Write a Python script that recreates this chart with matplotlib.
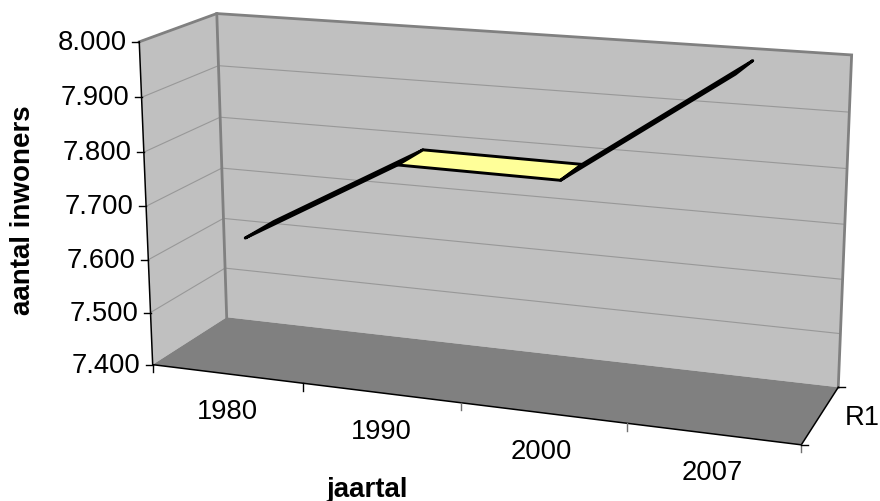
import numpy as np
import matplotlib
matplotlib.use("Agg")
import matplotlib.pyplot as plt
from matplotlib.patches import Polygon

plt.rcParams['font.family'] = ['Liberation Sans', 'DejaVu Sans']

# data
jaren = ["1980", "1990", "2000", "2007"]
inwoners = [7631, 7793, 7791, 7997]
y_ticks = [7400, 7500, 7600, 7700, 7800, 7900, 8000]
y_labels = ["7.400", "7.500", "7.600", "7.700", "7.800", "7.900", "8.000"]
reeks = "R1"

# box corners in picture pixels, used to calibrate the projection
# (x, y, z) -> pixel, x = along years, y = height, z = depth
hoeken = [
    ((0, 0, 0), (152.7, 366)),
    ((0, 1, 0), (139.5, 42.3)),
    ((0, 0, 1), (226.7, 318)),
    ((0, 1, 1), (216.5, 15)),
    ((1, 0, 1), (838.5, 388)),
    ((1, 1, 1), (851.7, 56)),
    ((1, 0, 0), (801, 446)),
]


def calibrate(paren):
    rows = []
    for (x, y, z), (u, v) in paren:
        rows.append([x, y, z, 1, 0, 0, 0, 0, -u * x, -u * y, -u * z, -u])
        rows.append([0, 0, 0, 0, x, y, z, 1, -v * x, -v * y, -v * z, -v])
    return np.linalg.svd(np.array(rows, float))[2][-1].reshape(3, 4)


P = calibrate(hoeken)


def proj(x, y, z):
    u, v, w = P @ np.array([x, y, z, 1.0])
    return u / w, v / w


def yy(v):
    return (v - y_ticks[0]) / (y_ticks[-1] - y_ticks[0])


fig = plt.figure(figsize=(8.8, 5.02), dpi=100)
ax = fig.add_axes([0, 0, 1, 1])
ax.set_xlim(0, 880)
ax.set_ylim(502, 0)
ax.axis('off')

# walls and floor
ax.add_patch(Polygon([proj(0, 0, 0), proj(0, 1, 0), proj(0, 1, 1), proj(0, 0, 1)], fc='#c0c0c0', ec='none'))
ax.add_patch(Polygon([proj(0, 0, 1), proj(0, 1, 1), proj(1, 1, 1), proj(1, 0, 1)], fc='#c0c0c0', ec='none'))
ax.add_patch(Polygon([proj(0, 0, 0), proj(1, 0, 0), proj(1, 0, 1), proj(0, 0, 1)], fc='#808080', ec='none'))

# gridlines
for t in y_ticks[1:-1]:
    h = yy(t)
    pts = [proj(0, h, 0), proj(0, h, 1), proj(1, h, 1)]
    ax.plot(*zip(*pts), color='#989898', lw=0.8)

# wall edges
rand = [proj(0, 1, 0), proj(0, 1, 1), proj(1, 1, 1), proj(1, 0, 1)]
ax.plot(*zip(*rand), color='#808080', lw=2, solid_joinstyle='miter')
ax.plot(*zip(proj(0, 1, 1), proj(0, 0, 1)), color='#808080', lw=2)

# axes lines
ax.plot(*zip(proj(0, 1, 0), proj(0, 0, 0), proj(1, 0, 0), proj(1, 0, 1)), color='black', lw=1.1)

# y ticks and labels
for t, lab in zip(y_ticks, y_labels):
    u, v = proj(0, yy(t), 0)
    ax.plot([u - 7, u], [v, v], color='black', lw=1)
    ax.text(u - 12.5, v, lab, ha='right', va='center', fontsize=19.7, color='black')

# x ticks
n = len(jaren)
for i in range(n + 1):
    u, v = proj(i / n, 0, 0)
    ax.plot([u, u], [v, v + 7.5], color='black' if i < 2 else '#707070', lw=1)
for u, v in [proj(1, 0, 0), proj(1, 0, 1)]:
    ax.plot([u, u + 7], [v, v], color='black', lw=1)

# ribbon
z1, z2 = 0.30, 0.70
for i in range(n - 1):
    x0, x1 = (i + 0.5) / n, (i + 1.5) / n
    h0, h1 = yy(inwoners[i]), yy(inwoners[i + 1])
    ax.add_patch(Polygon([proj(x0, h0, z1), proj(x1, h1, z1), proj(x1, h1, z2), proj(x0, h0, z2)],
                         fc='#ffff99', ec='black', lw=2.1, joinstyle='round', zorder=3))

# category labels
x_pos = [(227, 412), (381, 432), (541.7, 452), (712, 473)]
for lab, (u, v) in zip(jaren, x_pos):
    ax.text(u, v, lab, ha='center', va='center', fontsize=19.7)
ax.text(862, 418, reeks, ha='center', va='center', fontsize=19.7)

ax.text(367, 490, "jaartal", ha='center', va='center', fontsize=20, fontweight='bold')
ax.text(23, 210, "aantal inwoners", ha='center', va='center', rotation=90, fontsize=20, fontweight='bold')

fig.savefig("out.png", dpi=100)
